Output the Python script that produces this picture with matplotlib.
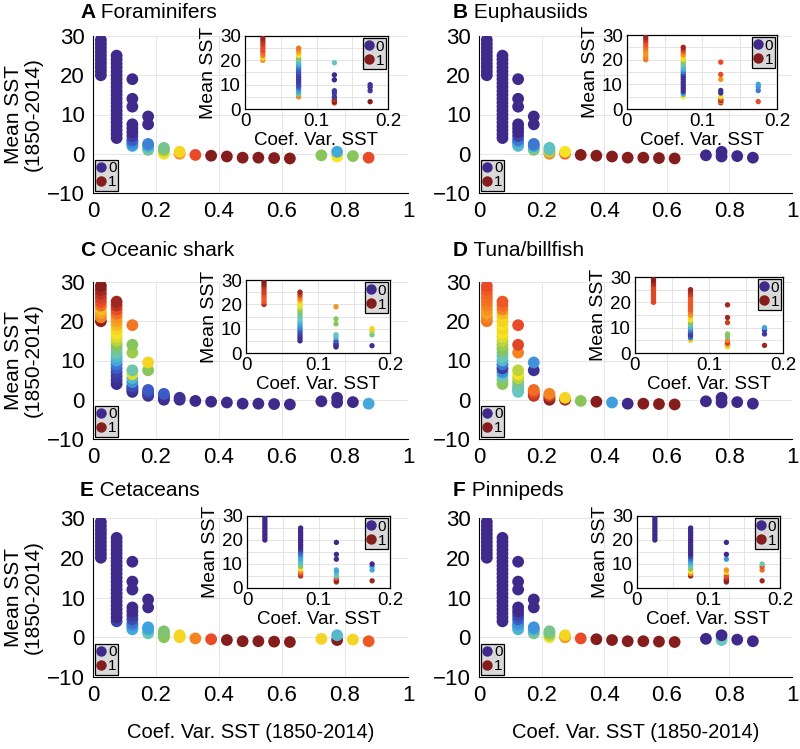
import matplotlib.pyplot as plt
from matplotlib.colors import LinearSegmentedColormap
from matplotlib.lines import Line2D
from matplotlib.ticker import MultipleLocator

plt.rcParams['font.family'] = ['Liberation Sans', 'DejaVu Sans']

# Coef. Var. SST bins (main panels) and the Mean SST of the cells in each bin
main_x = [0.025, 0.075, 0.125, 0.175, 0.225, 0.275, 0.325, 0.375, 0.425,
          0.475, 0.525, 0.575, 0.625, 0.725, 0.775, 0.825, 0.875]
main_y = [
    [20, 21, 22, 23, 24, 25, 26, 27, 28, 29],
    [4, 5, 6, 7, 8, 9, 10, 11, 12, 13, 14, 15, 16, 17, 18, 19, 20, 21, 22, 23, 24, 25],
    [2, 2.5, 3, 3.5, 4.5, 5.5, 6.5, 7.5, 12, 14, 19],
    [1, 1.5, 2, 2.5, 7.5, 9.5],
    [0, 0.5, 1, 1.5],
    [0, 0.5],
    [-0.3], [-0.5], [-0.7], [-1.0], [-1.0], [-1.1], [-1.2],
    [-0.4], [-0.7, 0.5], [-0.6], [-1.0],
]

# inset bins (0-0.2)
inset_x = [0.025, 0.075, 0.125, 0.175]
inset_y = [
    [20, 21, 22, 23, 24, 25, 26, 27, 28, 29],
    [5, 6, 7, 8, 9, 10, 11, 12, 13, 14, 15, 16, 17, 18, 19, 20, 21, 22, 23, 24, 25],
    [2.5, 3, 3.5, 4, 5, 6.5, 7.5, 12, 14, 19],
    [3, 7.5, 9, 10],
]

letters = ['A', 'B', 'C', 'D', 'E', 'F']
names = ['Foraminifers', 'Euphausiids', 'Oceanic shark', 'Tuna/billfish', 'Cetaceans', 'Pinnipeds']

# probability (0-1) per point, same order as main_y / inset_y
prob_a = [
    [0, 0, 0, 0, 0, 0, 0, 0, 0, 0],
    [0, 0, 0, 0, 0, 0, 0, 0, 0, 0, 0, 0, 0, 0, 0, 0, 0, 0, 0, 0, 0, 0],
    [0.28, 0.26, 0.22, 0.15, 0.05, 0, 0, 0, 0, 0, 0],
    [0.45, 0.4, 0.3, 0.22, 0, 0],
    [0.6, 0.58, 0.5, 0.45],
    [0.7, 0.62],
    [0.8], [1], [1], [1], [1], [1], [1],
    [0.5], [0.6, 0.3], [0.5], [0.8],
]
inset_a = [
    [0.7, 0.62, 0.72, 0.76, 0.8, 0.8, 0.82, 0.86, 0.9, 0.96],
    [0.72, 0.45, 0.32, 0.25, 0.15, 0.1, 0.06, 0.05, 0.05, 0.08, 0.12, 0.15, 0.2, 0.28, 0.35, 0.42, 0.5, 0.6, 0.65, 0.7, 0.74],
    [0.85, 1, 0.95, 0.9, 0.05, 0.05, 0.05, 0, 0, 0.4],
    [1, 0.05, 0.03, 0.03],
]
prob_b = [
    [0, 0, 0, 0, 0, 0, 0, 0, 0, 0],
    [0, 0, 0, 0, 0, 0, 0, 0, 0, 0, 0, 0, 0, 0, 0, 0, 0, 0, 0, 0, 0, 0],
    [0.35, 0.35, 0.3, 0.2, 0.08, 0, 0, 0, 0, 0, 0],
    [0.5, 0.4, 0.25, 0.2, 0, 0],
    [0.72, 0.55, 0.45, 0.38],
    [0.76, 0.6],
    [1], [1], [1], [1], [1], [1], [1],
    [0], [0, 0], [0], [0],
]
inset_b = [
    [0.74, 0.72, 0.7, 0.7, 0.72, 0.75, 0.78, 0.8, 0.88, 0.95],
    [0.6, 0.3, 0.05, 0.02, 0.02, 0.02, 0.02, 0.02, 0.02, 0.05, 0.2, 0.3, 0.35, 0.42, 0.5, 0.58, 0.62, 0.7, 0.75, 0.85, 0.95],
    [0.9, 0.7, 1, 0.8, 0.6, 0.02, 0.02, 0.7, 0.8, 0.8],
    [0.8, 0.2, 0.25, 0.28],
]
prob_c = [
    [0.98, 0.72, 0.68, 0.65, 0.75, 0.8, 0.85, 0.9, 0.95, 1.0],
    [0, 0.02, 0.05, 0.08, 0.15, 0.2, 0.3, 0.35, 0.42, 0.45, 0.5, 0.55, 0.58, 0.6, 0.62, 0.65, 0.68, 0.7, 0.75, 0.8, 0.9, 0.95],
    [0, 0.02, 0.05, 0.1, 0.25, 0.35, 0.58, 0.42, 0.52, 0.5, 0.74],
    [0.02, 0.05, 0.1, 0.15, 0.5, 0.62],
    [0, 0.02, 0.02, 0.15],
    [0, 0.02],
    [0], [0], [0], [0], [0], [0], [0],
    [0], [0, 0], [0], [0.3],
]
inset_c = [
    [0.95, 0.78, 0.78, 0.78, 0.8, 0.85, 0.85, 0.88, 0.95, 1.0],
    [0, 0.02, 0.04, 0.08, 0.12, 0.2, 0.25, 0.3, 0.35, 0.4, 0.42, 0.45, 0.5, 0.52, 0.58, 0.6, 0.62, 0.7, 0.75, 0.85, 0.95],
    [0, 0, 0.02, 0.05, 0.15, 0.35, 0.4, 0.5, 0.5, 0.7],
    [0.02, 0.45, 0.55, 0.62],
]
prob_d = [
    [0.74, 0.72, 0.68, 0.7, 0.72, 0.74, 0.75, 0.76, 0.78, 0.8],
    [0.5, 0.5, 0.4, 0.25, 0.05, 0.2, 0.35, 0.4, 0.45, 0.5, 0.52, 0.55, 0.58, 0.6, 0.62, 0.6, 0.62, 0.62, 0.65, 0.72, 0.75, 0.78],
    [0.4, 0.4, 0.4, 0.42, 0.45, 0.55, 0.6, 0.55, 0.72, 0.82, 0.8],
    [0.9, 0.85, 0.8, 0.75, 0.02, 0.25],
    [1, 0.95, 0.85, 0.72],
    [0.95, 0.62],
    [0.5], [1], [0.27], [0], [1], [1], [1],
    [0], [0, 0], [0], [0],
]
inset_d = [
    [0.82, 0.82, 0.82, 0.82, 0.82, 0.82, 0.82, 0.9, 0.95, 1.0],
    [0.62, 0.2, 0.05, 0.1, 0.22, 0.32, 0.42, 0.5, 0.6, 0.62, 0.7, 0.72, 0.78, 0.78, 0.78, 0.78, 0.78, 0.78, 0.85, 0.9, 0.95],
    [0.62, 0.62, 0.7, 0.85, 0.72, 0.45, 0.5, 0.85, 0.95, 0.95],
    [0.95, 0.05, 0.05, 0.28],
]
prob_e = [
    [0, 0, 0, 0, 0, 0, 0, 0, 0, 0],
    [0.08, 0, 0, 0, 0, 0, 0, 0, 0, 0, 0, 0, 0, 0, 0, 0, 0, 0, 0, 0, 0, 0],
    [0.3, 0.3, 0.25, 0.2, 0.1, 0.05, 0, 0, 0, 0, 0],
    [0.42, 0.4, 0.3, 0.28, 0, 0],
    [0.5, 0.5, 0.5, 0.48],
    [0.62, 0.62],
    [0.72], [0.8], [1], [1], [1], [1], [1],
    [0.62], [1, 0.35], [0.62], [0.78],
]
inset_e = [
    [0, 0, 0, 0, 0, 0, 0, 0, 0, 0],
    [0.9, 0.8, 0.7, 0.6, 0.5, 0.42, 0.36, 0.32, 0.28, 0.2, 0.15, 0.05, 0, 0, 0, 0, 0, 0, 0, 0, 0],
    [0.9, 0.95, 1, 0.8, 0.4, 0.35, 0.3, 0, 0, 0],
    [0.95, 0.3, 0.28, 0],
]
prob_f = [
    [0, 0, 0, 0, 0, 0, 0, 0, 0, 0],
    [0, 0, 0, 0, 0, 0, 0, 0, 0, 0, 0, 0, 0, 0, 0, 0, 0, 0, 0, 0, 0, 0],
    [0.33, 0.33, 0.3, 0.25, 0.15, 0.08, 0, 0, 0, 0, 0],
    [0.45, 0.42, 0.3, 0.25, 0, 0],
    [0.6, 0.55, 0.5, 0.45],
    [0.7, 0.62],
    [0.8], [1], [1], [1], [1], [1], [1],
    [0], [0.4, 0], [0], [0],
]
inset_f = [
    [0, 0, 0, 0, 0, 0, 0, 0, 0, 0],
    [0.95, 0.7, 0.6, 0.5, 0.42, 0.35, 0.28, 0.2, 0.1, 0, 0, 0, 0, 0, 0, 0, 0, 0, 0, 0, 0],
    [0.95, 1, 1, 0.9, 0.8, 0.62, 0.7, 0.25, 0, 0],
    [0.95, 0.75, 0.8, 0.42],
]

main_probs = [prob_a, prob_b, prob_c, prob_d, prob_e, prob_f]
inset_probs = [inset_a, inset_b, inset_c, inset_d, inset_e, inset_f]

cmap = LinearSegmentedColormap.from_list('prob', [
    (0.0, '#3f2a8c'), (0.15, '#3b5cc4'), (0.28, '#3fa3e0'), (0.4, '#67c6bf'),
    (0.5, '#86c55c'), (0.6, '#f5e423'), (0.7, '#f6941f'), (0.8, '#ea4a27'),
    (1.0, '#861d1d')])

W, H = 800, 749
fig = plt.figure(figsize=(W / 100, H / 100), dpi=100)


def px_axes(x0, y0, x1, y1):
    return fig.add_axes([x0 / W, 1 - y1 / H, (x1 - x0) / W, (y1 - y0) / H])


def flatten(xcols, ycols, pcols):
    xs, ys, ps = [], [], []
    for xc, yc, pc in zip(xcols, ycols, pcols):
        xs += [xc] * len(yc)
        ys += yc
        ps += pc
    return xs, ys, ps


def add_legend(ax, loc, fs):
    handles = [Line2D([], [], ls='', marker='o', ms=7.5, mec='none', color=cmap(0.0)),
               Line2D([], [], ls='', marker='o', ms=7.5, mec='none', color=cmap(1.0))]
    leg = ax.legend(handles, ['0', '1'], loc=loc, fontsize=fs, frameon=True,
                    fancybox=False, framealpha=1, borderpad=0.1, labelspacing=0.0,
                    handlelength=0.6, handletextpad=0.15, borderaxespad=0.15)
    leg.get_frame().set_facecolor('#d9d9d9')
    leg.get_frame().set_edgecolor('black')
    leg.get_frame().set_linewidth(0.9)


main_boxes = [(93, 36, 408, 193), (479, 36, 792, 193),
              (93, 282, 408, 439), (479, 282, 792, 439),
              (93, 518, 408, 677), (479, 518, 792, 677)]
inset_boxes = [(245, 36, 388, 109), (627, 35, 777, 109),
               (246, 280, 390, 353), (635, 277, 783, 353),
               (247, 516, 390, 588), (637, 516, 780, 588)]
title_pos = [(80, 18), (453, 18), (80, 256), (453, 256), (80, 496), (453, 496)]

for i in range(6):
    ax = px_axes(*main_boxes[i])
    xs, ys, ps = flatten(main_x, main_y, main_probs[i])
    ax.scatter(xs, ys, c=ps, cmap=cmap, vmin=0, vmax=1, s=72, edgecolors='none', zorder=3)
    ax.set_xlim(0, 1)
    ax.set_ylim(-10, 30)
    ax.set_xticks([0, 0.2, 0.4, 0.6, 0.8, 1])
    ax.set_xticklabels(['0', '0.2', '0.4', '0.6', '0.8', '1'])
    ax.set_yticks([-10, 0, 10, 20, 30])
    ax.grid(True, color='#e6e6e6', lw=0.7)
    ax.set_axisbelow(True)
    ax.spines['top'].set_visible(False)
    ax.spines['right'].set_visible(False)
    ax.tick_params(labelsize=16, length=0, pad=6)
    add_legend(ax, 'lower left', 11)
    if i % 2 == 0:
        ax.set_ylabel('Mean SST\n(1850-2014)', fontsize=15, labelpad=3, linespacing=1.05)
    if i >= 4:
        ax.set_xlabel('Coef. Var. SST (1850-2014)', fontsize=14.5, labelpad=12)

    lt = fig.text(title_pos[i][0] / W, 1 - title_pos[i][1] / H, letters[i],
                  fontsize=15, fontweight='bold', va='baseline', ha='left')
    ax.annotate(' ' + names[i], xy=(1, 0), xycoords=lt, fontsize=15,
                va='bottom', ha='left', annotation_clip=False)

    ins = px_axes(*inset_boxes[i])
    xs, ys, ps = flatten(inset_x, inset_y, inset_probs[i])
    ins.scatter(xs, ys, c=ps, cmap=cmap, vmin=0, vmax=1, s=15, edgecolors='none', zorder=3)
    ins.set_xlim(0, 0.2)
    ins.set_ylim(0, 30)
    ins.set_xticks([0, 0.1, 0.2])
    ins.set_xticklabels(['0', '0.1', '0.2'])
    ins.set_yticks([0, 10, 20, 30])
    ins.xaxis.set_minor_locator(MultipleLocator(0.05))
    ins.yaxis.set_minor_locator(MultipleLocator(5))
    ins.grid(True, which='both', color='#e4e4e4', lw=0.7)
    ins.set_axisbelow(True)
    for sp in ins.spines.values():
        sp.set_linewidth(0.9)
    ins.tick_params(which='both', labelsize=13.5, length=0, pad=3)
    ins.set_ylabel('Mean SST', fontsize=14, labelpad=2)
    ins.set_xlabel('Coef. Var. SST', fontsize=13.5, labelpad=1)
    add_legend(ins, 'upper right', 11)

fig.savefig('out.png', dpi=100)
